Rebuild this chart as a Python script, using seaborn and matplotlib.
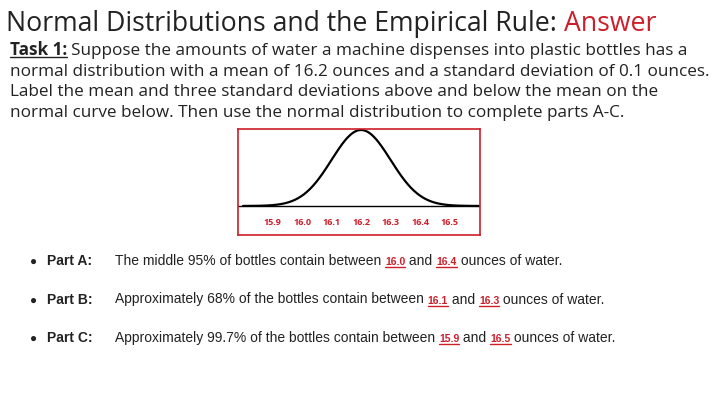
import numpy as np
import matplotlib
matplotlib.use("Agg")
import matplotlib.pyplot as plt
import seaborn as sns
import pandas as pd

mean = 16.2
sd = 0.1
tick_values = [15.9, 16.0, 16.1, 16.2, 16.3, 16.4, 16.5]
tick_labels = ["15.9", "16.0", "16.1", "16.2", "16.3", "16.4", "16.5"]
parts = ["Part A:", "Part B:", "Part C:"]
sentences = [
    ["The middle 95% of bottles contain between ", "16.0", " and ", "16.4", " ounces of water."],
    ["Approximately 68% of the bottles contain between ", "16.1", " and ", "16.3", " ounces of water."],
    ["Approximately 99.7% of the bottles contain between ", "15.9", " and ", "16.5", " ounces of water."],
]
RED = "#cc1f2a"

sns.set_theme(style="white")
plt.rcParams['font.family'] = ['Open Sans', 'DejaVu Sans']
W, H = 720, 405
fig = plt.figure(figsize=(7.2, 4.05), dpi=100)
fig.patch.set_facecolor("white")
renderer = fig.canvas.get_renderer()

def px(x, y):
    return x / W, 1 - y / H

def put(x, y, txt, underline=False, **kw):
    t = fig.text(*px(x, y), txt, va="baseline", **kw)
    bb = t.get_window_extent(renderer)
    if underline:
        fig.add_artist(plt.Line2D([x / W, (x + bb.width) / W], [1 - (y + 2) / H] * 2,
                                  color=kw.get("color", "k"), lw=1))
    return x + bb.width

# Title
x = put(6, 31, "Normal Distributions and the Empirical Rule: ", fontsize=19.2, color="#222222")
put(x, 31, "Answer", fontsize=19.2, color=RED)

body = ["Suppose the amounts of water a machine dispenses into plastic bottles has a",
        "normal distribution with a mean of 16.2 ounces and a standard deviation of 0.1 ounces.",
        "Label the mean and three standard deviations above and below the mean on the",
        "normal curve below. Then use the normal distribution to complete parts A-C."]
x = put(10, 55, "Task 1:", underline=True, fontsize=12.3, fontweight="bold", color="#222222")
put(x + 4, 55, body[0], fontsize=12.3, color="#222222")
for i, line in enumerate(body[1:]):
    put(10, 76 + 20.5 * i, line, fontsize=12.3, color="#222222")

# Chart
ax = fig.add_axes([238 / W, 1 - 235 / H, 242 / W, 106 / H])
xs = np.linspace(15.8, 16.6, 400)
ys = np.exp(-0.5 * ((xs - mean) / sd) ** 2)
df = pd.DataFrame({"x": xs, "y": ys})
sns.lineplot(data=df, x="x", y="y", ax=ax, color="black", lw=1.6)
ax.axhline(0, color="black", lw=1)
ax.set_xlim(15.783, 16.603)
ax.set_ylim(-0.382, 1.013)
ax.set_xticks([]); ax.set_yticks([])
ax.set_xlabel(""); ax.set_ylabel("")
for s in ax.spines.values():
    s.set_color(RED); s.set_linewidth(1.2); s.set_visible(True)
for v, lab in zip(tick_values, tick_labels):
    ax.text(v, -0.224, lab, ha="center", va="center", color=RED, fontsize=6.5, fontweight="bold")

# Parts
fam = ['Liberation Sans', 'DejaVu Sans']
for i, (p, sent) in enumerate(zip(parts, sentences)):
    y = 265 + 38.5 * i
    fig.text(*px(30, y), "●", va="baseline", fontsize=8.5, color="#222222", family=fam)
    put(47, y, p, fontsize=10, fontweight="bold", color="#222222", family=fam)
    x = 115
    for j, piece in enumerate(sent):
        if j in (1, 3):
            x = put(x, y, piece, underline=True, fontsize=7.5, fontweight="bold", color=RED, family=fam)
        else:
            x = put(x, y, piece, fontsize=10, color="#222222", family=fam)

fig.savefig("out.png", dpi=100)
